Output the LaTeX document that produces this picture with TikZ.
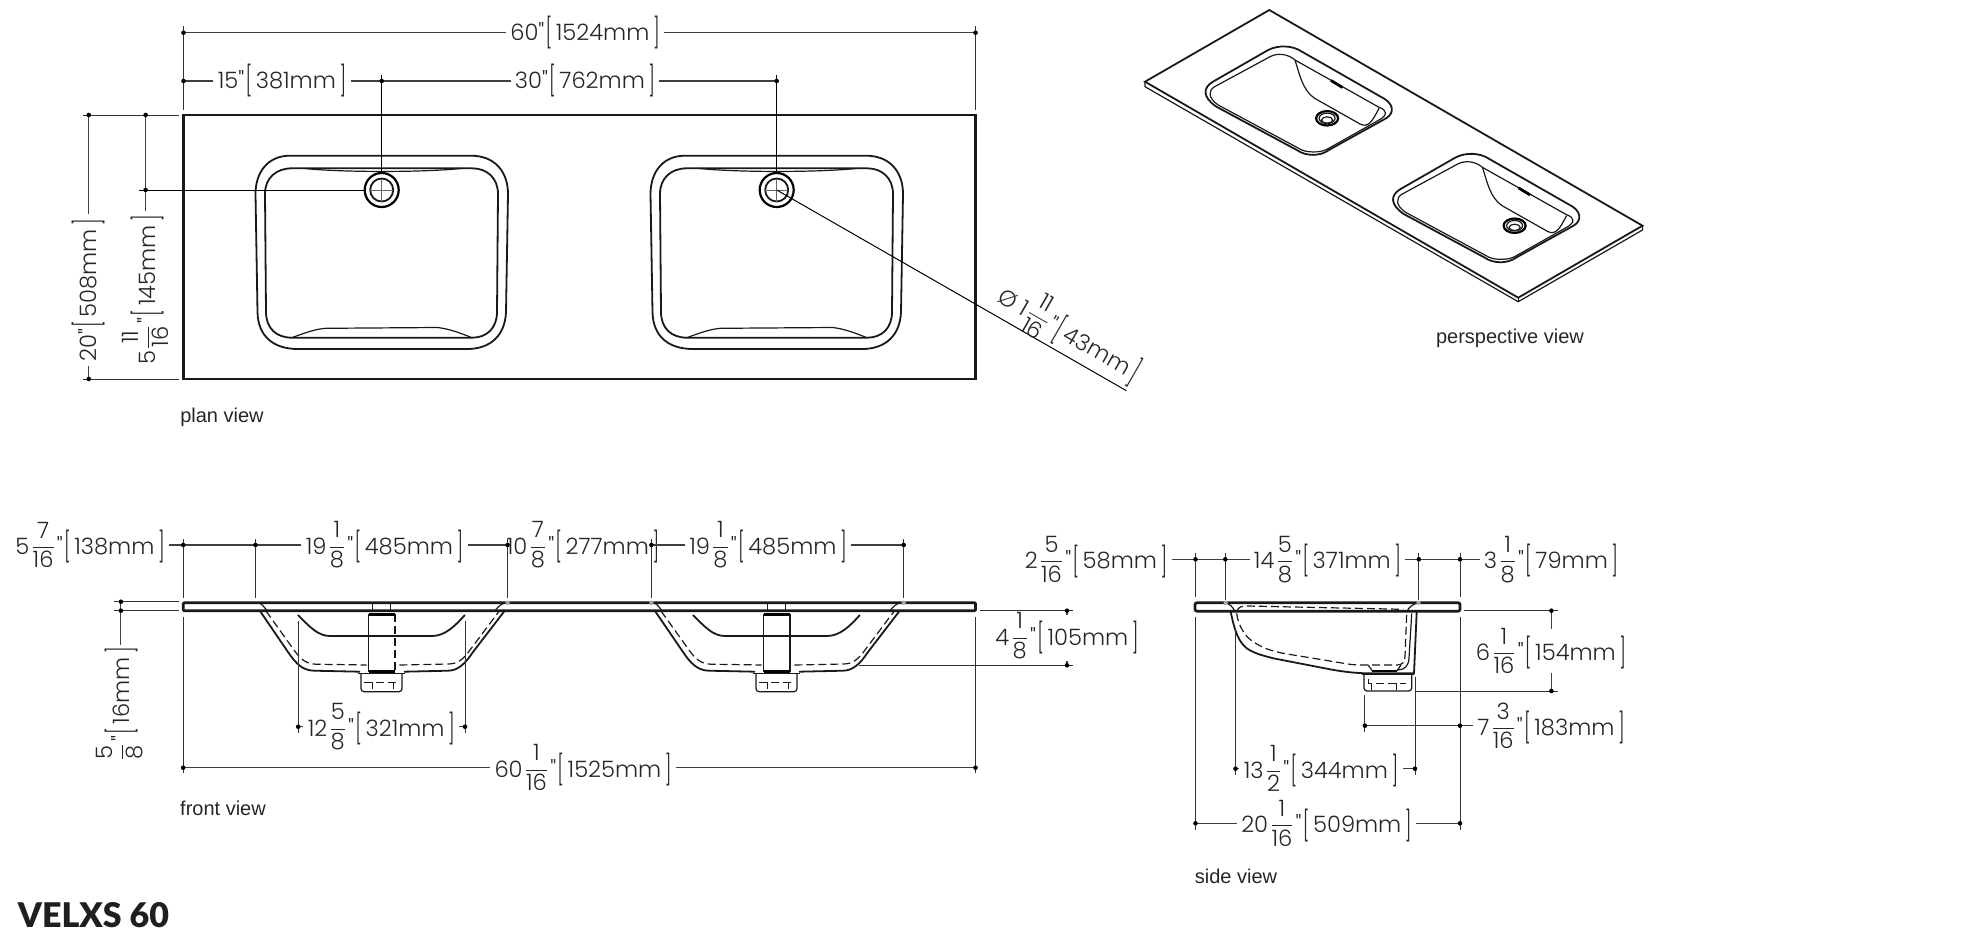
\documentclass[tikz,border=0pt]{standalone}
\usepackage{graphicx}
\usepackage{fontspec}
\setmainfont{Liberation Sans}
\newfontfamily\dimfont[UprightFont=* Light]{Poppins}
\newfontfamily\titlefont[UprightFont=* Black]{Lato}
\newcommand{\dimlb}{\kern0.6pt\raisebox{-1.6pt}{\scalebox{0.8}[1.3]{[}}\kern1.8pt}
\newcommand{\dimrb}{\kern1.8pt\raisebox{-1.6pt}{\scalebox{0.8}[1.3]{]}}}
\newcommand{\frc}[2]{\kern0.5pt\raisebox{0.8pt}{$\displaystyle\frac{\hbox{#1}}{\hbox{#2}}$}\kern0.5pt}

\begin{document}
\begin{tikzpicture}[x=0.5pt, y=-0.5pt,
    dimlabel/.style={font=\dimfont\fontsize{11.3}{13}\selectfont, text=black!85, inner sep=2pt},
    viewlabel/.style={font=\fontsize{10}{12}\selectfont, text=black!85, inner sep=0pt},
    dimline/.style={line width=0.55pt, black!75},
    extline/.style={line width=0.5pt, black!80},
    dimdot/.style={black},
    slabedge/.style={line width=1.35pt, black!90},
    sinkedge/.style={line width=0.9pt, black!90},
    sinkthin/.style={line width=0.6pt, black!90},
    hidden/.style={line width=0.6pt, black!90, dash pattern=on 4pt off 2pt}]
    \useasboundingbox (0,0) rectangle (1980,942);

    % Plan view
    \draw[slabedge] (183.5,115) rectangle (975.5,379);
    \foreach \dx in {0,395} {
        \begin{scope}[shift={(\dx,0)}]
            \draw[sinkedge] (290,155.7) -- (471,155.7) .. controls (495,155.7) and (508,172) .. (508,194)
                -- (506,312) .. controls (505,336) and (490,349) .. (467,349) -- (298,349)
                .. controls (273,349) and (258,336) .. (257.5,312) -- (255.5,194)
                .. controls (255.5,172) and (268,155.7) .. (290,155.7) -- cycle;
            \draw[sinkedge] (292,168.3) -- (472,168.3) .. controls (487,168.3) and (498,178) .. (498,194)
                -- (497,312) .. controls (497,328) and (487,337.7) .. (472,337.7) -- (292,337.7)
                .. controls (276,337.7) and (266,328) .. (266,312) -- (265,194)
                .. controls (265,178) and (276,168.3) .. (292,168.3) -- cycle;
            \draw[sinkthin] (303,168.3) .. controls (340,172.5) and (425,172.5) .. (463,168.3);
            \draw[sinkthin] (291.7,337.7) .. controls (305,333) and (315,329) .. (326,328.3)
                -- (437.7,327.5) .. controls (450,329) and (460,333) .. (472,337.7);
            % Drain
            \draw[line width=1.1pt, black, fill=white] (381.7,190) circle (17);
            \draw[sinkedge] (381.7,190) circle (11.5);
            \draw[line width=0.25pt, black!60] (370.2,190) -- (393.2,190);
            \draw[line width=0.25pt, black!60] (381.7,178.5) -- (381.7,201.5);
        \end{scope}
    }
    \node[viewlabel] (planLabel) at (222,417.5) {plan view};

    % Plan view dimensions
    \draw[extline] (183.5,26) -- (183.5,110);
    \draw[extline] (975.5,26) -- (975.5,110);
    \draw[extline, black] (381.7,75) -- (381.7,172);
    \draw[extline, black] (776.7,75) -- (776.7,172);
    \draw[extline] (83,115) -- (179,115);
    \draw[extline] (83,379) -- (179,379);
    \draw[extline, black] (139,190) -- (364.5,190);
    \draw[extline, black] (776.7,190) -- (1126.4,390.7);

    \node[dimlabel] (dimWidth) at (585,32.7) {60"\dimlb 1524mm\dimrb};
    \node[dimlabel] (dimLeft) at (282,81) {15"\dimlb 381mm\dimrb};
    \node[dimlabel] (dimGap) at (585,81) {30"\dimlb 762mm\dimrb};
    \node[dimlabel, rotate=90] (dimDepth) at (88.8,290) {20"\dimlb 508mm\dimrb};
    \node[dimlabel, rotate=90] (dimBack) at (145.6,290) {5\frc{11}{16}"\dimlb 145mm\dimrb};
    \node[dimlabel, rotate=-29.8] (dimDrain) at (1070,333) {Ø 1\frc{11}{16}"\dimlb 43mm\dimrb};

    \draw[dimline] (183.5,32.7) -- (dimWidth);
    \draw[dimline] (975.5,32.7) -- (dimWidth);
    \draw[dimline] (183.5,81) -- (dimLeft);
    \draw[dimline] (381.7,81) -- (dimLeft);
    \draw[dimline] (381.7,81) -- (dimGap);
    \draw[dimline] (776.7,81) -- (dimGap);
    \draw[dimline] (88.8,115) -- (dimDepth);
    \draw[dimline] (88.8,379) -- (dimDepth);
    \draw[dimline] (145.6,115) -- (dimBack);
    \foreach \p in {(183.5,32.7),(975.5,32.7),(183.5,81),(381.7,81),(776.7,81),(88.8,115),(88.8,379),(145.6,115),(145.6,190)} {
        \fill[dimdot] \p circle (2.3);
    }

    % Perspective view
    \draw[sinkedge] (1269.3,10) -- (1145,81.7) -- (1518.2,297.7) -- (1642.5,225.7) -- cycle;
    \draw[sinkthin] (1145,81.7) -- (1145,86.7) -- (1518.2,301.7) -- (1642.5,230) -- (1642.5,225.7);
    \draw[sinkthin] (1518.2,297.7) -- (1518.2,301.7);
    \foreach \dx/\dy in {0/0,187.5/107.4} {
        \begin{scope}[shift={(\dx,\dy)}]
            \draw[sinkedge] (1268.2,50) -- (1212.9,81.7) .. controls (1203,87.5) and (1202,97) .. (1216.4,106.7)
                -- (1296.8,150) .. controls (1306,156.5) and (1320,156.5) .. (1328.9,150)
                -- (1386,118.3) .. controls (1395,113) and (1394,103) .. (1380.7,96.7)
                -- (1302,51.7) .. controls (1292,45) and (1278,45) .. (1268.2,50) -- cycle;
            \draw[sinkthin] (1295,60) .. controls (1288,54) and (1278,52.5) .. (1270,56.7) -- (1214.6,86.7)
                .. controls (1208,90.5) and (1208,98) .. (1218.2,105) -- (1298.6,148.3)
                .. controls (1305,153) and (1320,153) .. (1327,149.3) -- (1379,120)
                .. controls (1388,115) and (1387,110) .. (1379,107.3) -- cycle;
            \draw[sinkthin] (1295,60) .. controls (1299,72) and (1302,90) .. (1314.6,98.3) -- (1360,124)
                .. controls (1368,128) and (1372,122) .. (1379,108.3);
            \draw[line width=1.4pt, black] (1331,80.5) -- (1342.5,87.5);
            \draw[line width=1.1pt, black] (1327.1,118.3) ellipse (11 and 7.2);
            \draw[sinkthin] (1327.1,118.3) ellipse (8 and 5.2);
            \draw[sinkthin] (1327.1,120) ellipse (5.5 and 3.2);
        \end{scope}
    }
    \node[viewlabel] (perspLabel) at (1510,338) {perspective view};

    % Front view
    \draw[slabedge, rounded corners=0.5] (183.2,602.7) rectangle (975.5,610.7);
    \foreach \dx/\pipe in {0/hidden,395/sinkedge} {
        \begin{scope}[shift={(\dx,0)}]
            \draw[sinkedge] (260,611) -- (288,652) .. controls (296,664) and (303,670.5) .. (314,670.7)
                -- (360,671.7);
            \draw[sinkedge] (404,671.7) -- (448,670.7) .. controls (458,670.5) and (465,664) .. (473,652) -- (504.5,611);
            \draw[sinkthin] (258,602.7) .. controls (262,603.5) and (264,607) .. (267,610.7);
            \draw[sinkthin] (495,610.7) .. controls (498,607) and (501,603.5) .. (506,602.7);
            \draw[hidden] (266,611) -- (294,650) .. controls (301,660) and (307,664) .. (316,664.2) -- (366.7,665);
            \draw[hidden] (399.4,665) -- (448,664) .. controls (457,664) and (463,660) .. (470,650) -- (499.3,611);
            % Back wall of the bowl
            \draw[sinkedge] (297.9,615) .. controls (310,627) and (318,636) .. (330,636) -- (432,636)
                .. controls (445,636) and (455,626) .. (464.9,615);
            % Waste pipe
            \draw[sinkthin] (368.5,614) -- (368.5,672);
            \draw[\pipe] (395,614) -- (395,672);
            \draw[line width=1.3pt, black] (368.5,614.2) -- (395,614.2);
            \draw[line width=1.3pt, black] (369,671.5) -- (395,671.5);
            \draw[hidden, line width=0.4pt] (372,603) -- (372,610);
            \draw[hidden, line width=0.4pt] (390,603) -- (390,610);
            \draw[sinkthin] (358,673.5) -- (404.6,673.5);
            \draw[sinkthin, rounded corners=1.5] (361,673.5) -- (361,691.7) -- (402,691.7) -- (402,673.5);
            \draw[hidden, line width=0.45pt] (364,682.3) -- (399.4,682.3);
            \draw[sinkthin, line width=0.4pt] (372,682.3) -- (372,689);
            \draw[sinkthin, line width=0.4pt] (393,682.3) -- (393,689);
        \end{scope}
    }
    \node[viewlabel] (frontLabel) at (223,808) {front view};

    % Front view dimensions
    \foreach \x in {183.2,255.5,507.6,651.4,903.7} {
        \draw[extline] (\x,539.3) -- (\x,598);
    }
    \foreach \x in {507.6,651.4,903.7} {
        \fill[black!35] (\x,602.7) circle (2.2);
    }
    \draw[extline] (183.2,617) -- (183.2,773);
    \draw[extline] (975.5,617) -- (975.5,773);
    \draw[extline] (298.2,620.7) -- (298.2,733);
    \draw[extline] (465,620.7) -- (465,733);
    \draw[extline] (114,601.7) -- (179,601.7);
    \draw[extline] (114,610.7) -- (179,610.7);
    \draw[extline] (980,610.7) -- (1073,610.7);
    \draw[extline] (858.8,665.3) -- (1073,665.3);

    \node[dimlabel] (dimMarginF) at (90,545) {5\frc{7}{16}"\dimlb 138mm\dimrb};
    \node[dimlabel] (dimBowlA) at (384.5,545) {19\frc{1}{8}"\dimlb 485mm\dimrb};
    \node[dimlabel, inner sep=0pt] (dimCentreF) at (583,545) {10\frc{7}{8}"\dimlb 277mm\dimrb};
    \node[dimlabel] (dimBowlB) at (768,545) {19\frc{1}{8}"\dimlb 485mm\dimrb};
    \node[dimlabel, rotate=90] (dimSlab) at (120,705) {\frc{5}{8}"\dimlb 16mm\dimrb};
    \node[dimlabel] (dimInner) at (381.3,726.7) {12\frc{5}{8}"\dimlb 321mm\dimrb};
    \node[dimlabel] (dimOverall) at (583,767.7) {60\frc{1}{16}"\dimlb 1525mm\dimrb};
    \node[dimlabel] (dimBowlDepth) at (1067,636) {4\frc{1}{8}"\dimlb 105mm\dimrb};

    \draw[dimline] (183.2,545) -- (dimMarginF);
    \draw[dimline] (183.2,545) -- (dimBowlA);
    \draw[dimline] (507.6,545) -- (dimBowlA);
    \draw[dimline] (651.4,545) -- (dimBowlB);
    \draw[dimline] (903.7,545) -- (dimBowlB);
    \draw[dimline] (120.9,600.7) -- (120.9,645);
    \draw[dimline] (298.2,726.7) -- (dimInner);
    \draw[dimline] (465,726.7) -- (dimInner);
    \draw[dimline] (183.2,767.7) -- (dimOverall);
    \draw[dimline] (975.5,767.7) -- (dimOverall);
    \draw[dimline] (1067,610.7) -- (1067,615);
    \draw[dimline] (1067,665.3) -- (1067,661);
    \foreach \p in {(183.2,545),(255.5,545),(507.6,545),(651.4,545),(903.7,545),(120.9,601.7),(120.9,610.7),(298.2,726.7),(465,726.7),(183.2,767.7),(975.5,767.7),(1067,610.7),(1067,665.3)} {
        \fill[dimdot] \p circle (2.3);
    }

    % Side view
    \draw[slabedge, rounded corners=1] (1195,602.7) rectangle (1460,611.2);
    \draw[sinkedge] (1230.7,612) .. controls (1233,622) and (1236,640) .. (1246.7,648.3)
        .. controls (1255,654) and (1265,656) .. (1273.3,658.3) -- (1330,669.3)
        .. controls (1345,672) and (1355,673) .. (1366.7,673.3) -- (1414,673.3) -- (1416.7,611.7);
    \draw[hidden] (1236.7,613.3) .. controls (1238,625) and (1245,637) .. (1253.3,641.7)
        .. controls (1262,648) and (1272,651) .. (1283,653.3) -- (1345,663.5)
        .. controls (1352,665) and (1360,665) .. (1365,665) -- (1396,665)
        .. controls (1403,665) and (1405,662) .. (1405,656) -- (1406.7,613.3);
    \draw[sinkthin] (1411.7,613.3) -- (1409,658) .. controls (1408.5,666) and (1405,669.5) .. (1398,670);
    \draw[hidden] (1237,611) .. controls (1238,607) and (1242,606) .. (1246.7,606) -- (1403,609.3);
    \draw[sinkthin] (1225,602.7) .. controls (1230,604) and (1233,607) .. (1235,611.7);
    \draw[sinkthin] (1418.3,602.7) .. controls (1413,604) and (1409,607) .. (1406.7,611.7);
    \draw[line width=1.2pt, black] (1371.7,671) -- (1396.7,671);
    \draw[sinkthin] (1368,665) -- (1372.5,671);
    \draw[sinkthin] (1401,665) -- (1396.7,671);
    \draw[sinkthin, rounded corners=1.5] (1364,675) -- (1364,691) -- (1411.7,691) -- (1411.7,675);
    \draw[sinkthin] (1361.7,674.5) -- (1414,674.5);
    \draw[hidden, line width=0.45pt] (1368,679.3) -- (1368,683) -- (1406,683);
    \draw[sinkthin, line width=0.4pt] (1371,683) -- (1371,690);
    \draw[sinkthin, line width=0.4pt] (1396.7,683) -- (1396.7,690);
    \foreach \x in {1225.7,1418.5} {
        \fill[black!35] (\x,602.7) circle (2.2);
    }
    \node[viewlabel] (sideLabel) at (1236,876) {side view};

    % Side view dimensions
    \foreach \x in {1195.5,1460} {
        \draw[extline] (\x,553) -- (\x,597);
        \draw[extline] (\x,616.7) -- (\x,830);
    }
    \foreach \x in {1225.3,1418.8} {
        \draw[extline] (\x,553) -- (\x,600);
    }
    \draw[extline] (1235.5,628.3) -- (1235.5,775);
    \draw[extline] (1415,676.7) -- (1415,775);
    \draw[extline] (1364.9,695) -- (1364.9,731.7);
    \draw[extline] (1464,610.7) -- (1558,610.7);
    \draw[extline] (1415,691) -- (1558,691);

    \node[dimlabel] (dimMarginS) at (1096,559.3) {2\frc{5}{16}"\dimlb 58mm\dimrb};
    \node[dimlabel] (dimBowlS) at (1327.5,559.3) {14\frc{5}{8}"\dimlb 371mm\dimrb};
    \node[dimlabel] (dimBackS) at (1551,559.3) {3\frc{1}{8}"\dimlb 79mm\dimrb};
    \node[dimlabel] (dimHeight) at (1551,651) {6\frc{1}{16}"\dimlb 154mm\dimrb};
    \node[dimlabel] (dimWaste) at (1551,725.7) {7\frc{3}{16}"\dimlb 183mm\dimrb};
    \node[dimlabel] (dimBowlIn) at (1321,768.7) {13\frc{1}{2}"\dimlb 344mm\dimrb};
    \node[dimlabel] (dimDepthS) at (1326.4,823.3) {20\frc{1}{16}"\dimlb 509mm\dimrb};

    \draw[dimline] (1225.3,559.3) -- (dimMarginS);
    \draw[dimline] (1225.3,559.3) -- (dimBowlS);
    \draw[dimline] (1460,559.3) -- (dimBowlS);
    \draw[dimline] (1418.8,559.3) -- (dimBackS);
    \draw[dimline] (1551.4,610.7) -- (1551.4,629);
    \draw[dimline] (1551.4,691) -- (1551.4,673.3);
    \draw[dimline] (1364.9,725.7) -- (dimWaste);
    \draw[dimline] (1235.5,768.7) -- (dimBowlIn);
    \draw[dimline] (1415,768.7) -- (dimBowlIn);
    \draw[dimline] (1195.5,823.3) -- (dimDepthS);
    \draw[dimline] (1460,823.3) -- (dimDepthS);
    \foreach \p in {(1195.5,559.3),(1225.3,559.3),(1418.8,559.3),(1460,559.3),(1551.4,610.7),(1551.4,691),(1364.9,725.7),(1460,725.7),(1235.5,768.7),(1415,768.7),(1195.5,823.3),(1460,823.3)} {
        \fill[dimdot] \p circle (2.3);
    }

    % Title
    \node[font=\titlefont\fontsize{17}{20}\selectfont, text=black!88, inner sep=0pt] (title) at (93.5,915) {VELXS 60};
\end{tikzpicture}
\end{document}
